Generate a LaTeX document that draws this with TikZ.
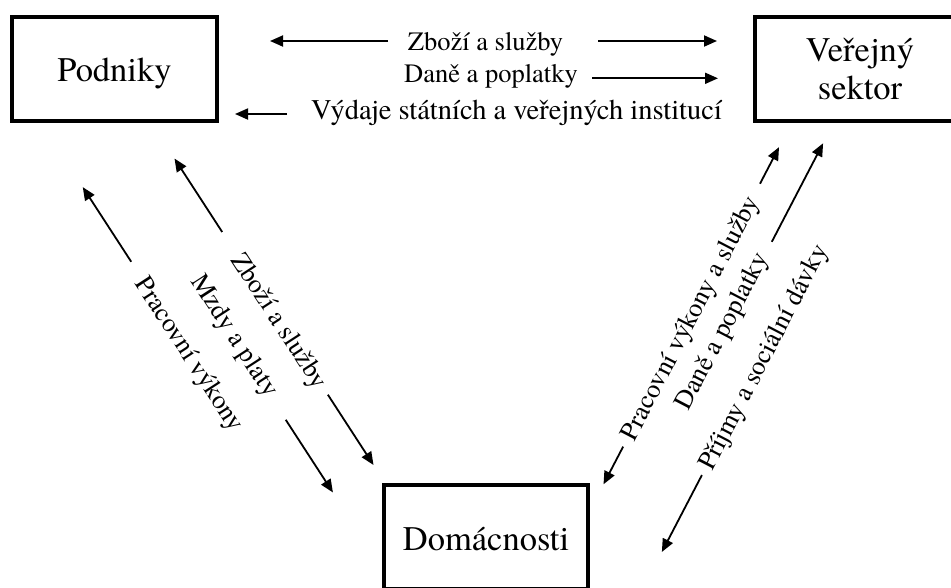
\documentclass[tikz,border=0pt]{standalone}
\usepackage{fontspec}
\setmainfont{texgyretermes}[Extension=.otf, UprightFont=*-regular, BoldFont=*-bold, ItalicFont=*-italic, BoldItalicFont=*-bolditalic]
\usetikzlibrary{arrows.meta}
\begin{document}
\begin{tikzpicture}[x=1pt,y=-1pt,
  box/.style={draw, line width=4pt, minimum width=#1, minimum height=104pt, inner sep=0pt,
    font=\fontsize{34.5}{38}\selectfont},
  lbl/.style={font=\fontsize{26.5}{30}\selectfont, anchor=base, inner sep=0pt},
  arr/.style={line width=1.8pt, -{Triangle[length=13pt,width=11pt]}},
]
\useasboundingbox (0,0) rectangle (951,587);
\clip (0,0) rectangle (951,587);

% boxes
\node[box=205pt, text height=24pt, text depth=0pt] (pod) at (114.5,69) {Podniky};
\node[box=210pt, align=center] (ver) at (860,69) {Veřejný\\sektor};
\node[box=204pt, text height=26pt, text depth=0pt] (dom) at (486,537) {Domácnosti};

% top rows (Podniky <-> Verejny sektor)
\node[lbl] (t1) at (485.5,50) {Zboží a služby};
\node[lbl] (t2) at (491,82.5) {Daně a poplatky};
\node[lbl, font=\fontsize{28.5}{30}\selectfont] (t3) at (516.5,119.5) {Výdaje státních a veřejných institucí};
\coordinate (t1a) at (388,41);  \coordinate (t1b) at (270,41);
\coordinate (t1c) at (598,41);  \coordinate (t1d) at (717,41);
\coordinate (t2c) at (592,78.3); \coordinate (t2d) at (718,78.3);
\coordinate (t3a) at (287,114); \coordinate (t3b) at (235,114);
\draw[arr] (t1a) -- (t1b);
\draw[arr] (t1c) -- (t1d);
\draw[arr] (t2c) -- (t2d);
\draw[arr] (t3a) -- (t3b);

% left block (Podniky <-> Domacnosti)
\begin{scope}[rotate=-57, transform shape]
  \node[lbl] (l1) at (421.4,-51.7) {Zboží a služby};
  \node[lbl] (l2) at (409.3,-6.4) {Mzdy a platy};
  \node[lbl] (l3) at (400.3,41.8) {Pracovní výkony};
  \coordinate (l1a) at (315.6,-60); \coordinate (l1b) at (228,-60);
  \coordinate (l1c) at (509.6,-60); \coordinate (l1d) at (593.4,-60);
  \coordinate (l2c) at (507.7,-11); \coordinate (l2d) at (594.3,-11);
  \coordinate (l3a) at (291,32.5);  \coordinate (l3b) at (202,32.5);
\end{scope}
\draw[arr] (l1a) -- (l1b);
\draw[arr] (l1c) -- (l1d);
\draw[arr] (l2c) -- (l2d);
\draw[arr] (l3a) -- (l3b);

% right block (Verejny sektor <-> Domacnosti)
\begin{scope}[rotate=62.5, transform shape]
  \node[lbl] (r1) at (36.3,767) {Pracovní výkony a služby};
  \node[lbl] (r2) at (39.6,801) {Daně a poplatky};
  \node[lbl] (r3) at (35.6,850) {Příjmy a sociální dávky};
  \coordinate (r1a) at (188,759);    \coordinate (r1b) at (229.2,759);
  \coordinate (r1c) at (-108.4,759); \coordinate (r1d) at (-150.9,759);
  \coordinate (r2a) at (141.9,796.3); \coordinate (r2b) at (253,796.3);
  \coordinate (r3c) at (-97.3,842);  \coordinate (r3d) at (-184,842);
\end{scope}
\draw[arr] (r1a) -- (r1b);
\draw[arr] (r1c) -- (r1d);
\draw[arr] (r2a) -- (r2b);
\draw[arr] (r3c) -- (r3d);
\end{tikzpicture}
\end{document}
